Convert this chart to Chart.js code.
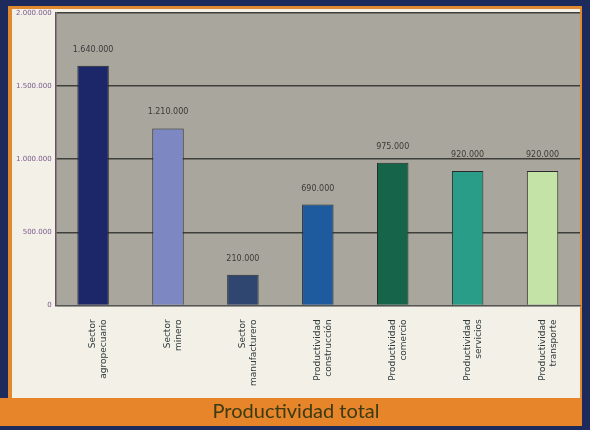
<!DOCTYPE html>
<html>
<head>
<meta charset="utf-8">
<script src="https://cdn.jsdelivr.net/npm/chart.js@4/dist/chart.umd.min.js"></script>
<style>
  html, body { margin: 0; padding: 0; background: #1d2b5c; }
  #wrap { width: 590px; height: 430px; position: relative; }
</style>
</head>
<body>
<div id="wrap"><canvas id="chart" width="590" height="430"></canvas></div>
<script>
// sectores y valores de productividad
const sectores = [
    ['Sector', 'agropecuario'],
    ['Sector', 'minero'],
    ['Sector', 'manufacturero'],
    ['Productividad', 'construcción'],
    ['Productividad', 'comercio'],
    ['Productividad', 'servicios'],
    ['Productividad', 'transporte']
];
const productividad = [1640000, 1210000, 210000, 690000, 975000, 920000, 920000];
const etiquetasValor = ['1.640.000', '1.210.000', '210.000', '690.000', '975.000', '920.000', '920.000'];
const colores = ['#1b2768', '#7d88c2', '#2e4670', '#1d5a9e', '#16654a', '#2a9d88', '#c3e4a6'];
const ticksY = [0, 500000, 1000000, 1500000, 2000000];

const fondo = {
    id: 'fondo',
    beforeDraw(chart) {
        const ctx = chart.ctx;
        const a = chart.chartArea;
        ctx.save();
        ctx.fillStyle = '#1d2b5c';
        ctx.fillRect(0, 0, chart.width, chart.height);
        ctx.fillStyle = '#e0892e';
        ctx.fillRect(8, 6, 574, 394);
        ctx.fillStyle = '#f3f0e8';
        ctx.fillRect(12, 9, 568, 389);
        // banda del titulo
        ctx.fillStyle = '#e7852a';
        ctx.fillRect(0, 398, 582, 28);
        ctx.fillStyle = '#a9a79d';
        ctx.fillRect(a.left, a.top, a.right - a.left, a.bottom - a.top);
        ctx.restore();
    }
};

const valores = {
    id: 'valores',
    afterDatasetsDraw(chart) {
        const ctx = chart.ctx;
        const meta = chart.getDatasetMeta(0);
        ctx.save();
        ctx.font = '8px "DejaVu Sans"';
        ctx.fillStyle = '#3a3a38';
        ctx.textAlign = 'center';
        meta.data.forEach((bar, i) => {
            ctx.fillText(etiquetasValor[i], bar.x, bar.y - 14);
        });
        ctx.restore();
    }
};

new Chart(document.getElementById('chart'), {
    type: 'bar',
    data: {
        labels: sectores,
        datasets: [{
            data: productividad,
            backgroundColor: colores,
            borderColor: '#2b2b2b',
            borderWidth: 1,
            barPercentage: 0.42,
            categoryPercentage: 1
        }]
    },
    options: {
        responsive: false,
        animation: false,
        layout: { padding: { left: 12, right: 10, top: 13, bottom: 2 } },
        plugins: {
            legend: { display: false },
            tooltip: { enabled: false },
            title: {
                display: true,
                position: 'bottom',
                text: 'Productividad total',
                color: '#3b3a12',
                font: { size: 20, family: 'Lato', weight: '400' },
                padding: { top: 8, bottom: 4 }
            }
        },
        scales: {
            x: {
                grid: { display: false },
                border: { color: '#555' },
                ticks: {
                    minRotation: 90,
                    maxRotation: 90,
                    color: '#2f3a3a',
                    font: { size: 9, family: 'DejaVu Sans' },
                    padding: 6
                }
            },
            y: {
                min: 0,
                max: 2000000,
                afterBuildTicks(axis) {
                    axis.ticks = ticksY.map(v => ({ value: v }));
                },
                grid: { color: '#3e3e3a', lineWidth: 1.5, drawTicks: false },
                border: { color: '#6a5060', width: 1.5 },
                ticks: {
                    color: '#7a5a8c',
                    font: { size: 7, family: 'DejaVu Sans' },
                    padding: 4,
                    callback: v => v.toLocaleString('es-ES')
                }
            }
        }
    },
    plugins: [fondo, valores]
});
</script>
</body>
</html>
